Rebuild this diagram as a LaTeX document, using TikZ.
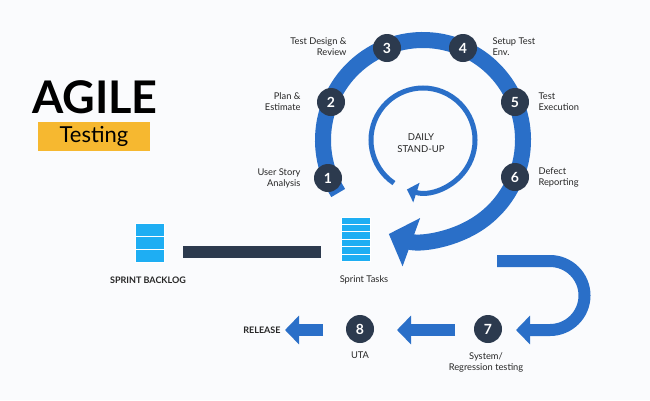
\documentclass[tikz,border=0pt]{standalone}
\usepackage{fontspec}
\setmainfont{Lato}
\usetikzlibrary{arrows.meta}
\definecolor{ablue}{HTML}{2A6FC8}
\definecolor{dark}{HTML}{2C3A4E}
\definecolor{lblue}{HTML}{1EAEF3}
\definecolor{ayel}{HTML}{F6B830}
\definecolor{bg}{HTML}{FAFBFD}
\tikzset{
 num/.style={circle,fill=dark,text=white,minimum size=28pt,inner sep=0,font=\bfseries\fontsize{14}{14}\selectfont},
 lab/.style={font=\fontsize{9.3}{11}\selectfont,text=black!85},
 blab/.style={font=\bfseries\fontsize{9}{11}\selectfont,text=black!85},
 strip/.style={fill=lblue,draw=white,line width=1pt},
 flow/.style={ablue,line width=12pt,-{Triangle[length=14pt,width=28pt]}},
}
\begin{document}
\begin{tikzpicture}[x=1pt,y=-1pt]
\fill[bg] (0,0) rectangle (650,400);
\useasboundingbox (0,0) rectangle (650,400);
% title
\node[font=\bfseries\fontsize{45}{45}\selectfont,text=black] (agile) at (95,97) {AGILE};
\fill[ayel] (38,122) rectangle (150,151);
\node[font=\fontsize{22}{22}\selectfont] (testing) at (94,136) {Testing};
% big ring
\coordinate (c) at (423,140);
\draw[ablue,line width=16pt,-{Triangle[length=24pt,width=50pt]}] ([shift={(148:100)}]c) arc[start angle=148,end angle=470,radius=100];
% inner ring
\draw[ablue,line width=5pt,-{Triangle[length=10pt,width=20pt]}] ([shift={(124:52)}]c) arc[start angle=124,end angle=468,radius=52];
\node[blab,align=center,font=\fontsize{9.5}{11.5}\selectfont] (daily) at (421,143) {DAILY\\STAND-UP};
% numbers
\node[num] (n1) at (328,178) {1};
\node[num] (n2) at (331,102) {2};
\node[num] (n3) at (387,48) {3};
\node[num] (n4) at (463,48) {4};
\node[num] (n5) at (515,102) {5};
\node[num] (n6) at (515,177) {6};
\node[lab,align=right,anchor=east] (l1) at (304,178) {User Story\\Analysis};
\node[lab,align=right,anchor=east] (l2) at (304,102) {Plan \&\\Estimate};
\node[lab,align=right,anchor=east] (l3) at (350,47) {Test Design \&\\Review};
\node[lab,align=left,anchor=west] (l4) at (489,47) {Setup Test\\Env.};
\node[lab,align=left,anchor=west] (l5) at (535,102) {Test\\Execution};
\node[lab,align=left,anchor=west] (l6) at (535,177) {Defect\\Reporting};
% icons
\foreach \i in {0,...,5} \draw[strip] (341,217+\i*7.4) rectangle (370,217+\i*7.4+7.4);
\foreach \i in {0,...,2} \draw[strip] (135,223+\i*13) rectangle (164,223+\i*13+13);
\node[inner sep=0,minimum width=29pt,minimum height=44pt] (tasks) at (355.5,239) {};
\node[inner sep=0,minimum width=29pt,minimum height=39pt] (backlog) at (149.5,242.5) {};
\fill[dark] (183,246) rectangle (321,258);
\node[blab] (bl) at (148,280) {SPRINT BACKLOG};
\node[lab] (st) at (364,280) {Sprint Tasks};
% U arrow
\coordinate (u0) at (497,261);
\draw[ablue,line width=12pt,-{Triangle[length=14pt,width=28pt]}] (u0) -- (550,261) arc[start angle=270,end angle=450,radius=34.5] -- (516,330);
% bottom
\node[num] (n7) at (488,329) {7};
\node[num] (n8) at (360,329) {8};
\node[lab,align=center] (l7) at (486,362) {System/\\Regression testing};
\node[lab] (l8) at (360,355) {UTA};
\node[blab] (rel) at (262,330) {RELEASE};
\draw[flow] (455,330) -- (397,330);
\draw[flow] (323,330) -- (285,330);
\end{tikzpicture}
\end{document}
